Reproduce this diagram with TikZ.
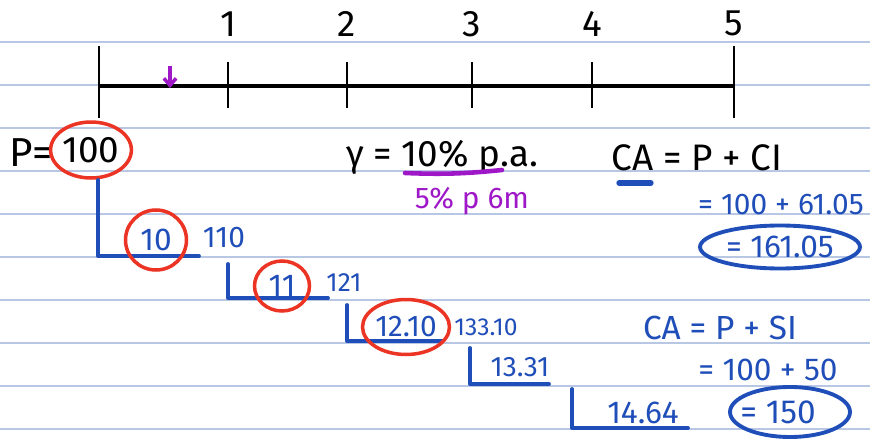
\documentclass[tikz,border=0pt]{standalone}
\usepackage{fontspec}
\setmainfont{Fira Sans}
\usetikzlibrary{shapes.geometric,arrows.meta,positioning}
\definecolor{penblue}{RGB}{32,78,185}
\definecolor{penred}{RGB}{236,52,36}
\definecolor{penpurple}{RGB}{158,24,200}
\definecolor{ruleblue}{RGB}{184,200,228}

\tikzset{
  hand/.style={font=\fontsize{#1}{#1}\selectfont, inner sep=1pt},
  ink/.style={line width=2.2pt, line cap=round, line join=round},
  ring/.style={ellipse, draw=#1, line width=2pt, inner sep=0pt},
  yearlbl/.style={hand=21},
  tick/.style={line width=1.7pt},
}

\begin{document}
\begin{tikzpicture}[x=0.02cm, y=-0.02cm]
\useasboundingbox (0,0) rectangle (870,443);
% ruled paper
\foreach \yy in {42,85,...,430}
  \draw[ruleblue, line width=0.7pt] (0,\yy) -- (870,\yy);

% time line
\coordinate (t0) at (99,86);
\coordinate (t5) at (734,86);
\draw[line width=2.6pt] (t0) -- (t5);
\draw[tick] (99,46) -- (99,118);
\draw[tick] (734,46) -- (734,118);
\foreach \xx/\yr in {228/1,347/2,472/3,592/4} {
  \draw[tick] (\xx,62) -- (\xx,108);
  \node[yearlbl] (y\yr) at (\xx,24) {\yr};
}
\node[yearlbl] (y5) at (734,23) {5};
\draw[penpurple, line width=2pt, -{Straight Barb[length=4pt,width=7pt]}] (170,66) -- (170,88);

% principal
\node[hand=23] (peq) at (31,153) {P=};
\node[hand=21, ring=penred, minimum width=1.5cm, minimum height=1.12cm] (p100) at (91,150) {100};

% rate
\node[hand=21] (rate) at (442,157) {γ = 10\% p.a.};
\draw[penpurple, ink, line width=2.6pt] (405,173) to[bend right=4] (502,170);
\node[hand=17, text=penpurple] (half) at (472,201) {5\% p 6m};

% compound amount
\node[hand=21] (ca) at (697,158) {CA = P + CI};
\draw[penblue, ink, line width=3pt] (619,183) -- (651,183);
\node[hand=17, text=penblue] (ca1) at (781,205) {= 100 + 61.05};
\node[hand=18, text=penblue, ring=penblue, line width=2.2pt,
      minimum width=3.2cm, minimum height=0.86cm] (ca2) at (780,247) {= 161.05};

% yearly interest steps
\coordinate (a1) at (98,180);  \coordinate (b1) at (199,256);
\coordinate (a2) at (228,264); \coordinate (b2) at (328,298);
\coordinate (a3) at (347,305); \coordinate (b3) at (442,341);
\coordinate (a4) at (470,348); \coordinate (b4) at (549,384);
\coordinate (a5) at (572,389); \coordinate (b5) at (688,428);
\foreach \i in {1,...,5}
  \draw[penblue, ink] (a\i) |- (b\i);

\node[hand=18, text=penblue, ring=penred, minimum width=1.22cm, minimum height=1.2cm] (i1) at (156,240) {10};
\node[hand=17, text=penblue] (s1) at (224,238) {110};
\node[hand=18, text=penblue, ring=penred, minimum width=1.1cm, minimum height=1cm] (i2) at (282,286) {11};
\node[hand=15, text=penblue] (s2) at (344,283) {121};
\node[hand=17, text=penblue, ring=penred, minimum width=1.5cm, minimum height=1.1cm] (i3) at (406,327) {12.10};
\node[hand=14, text=penblue] (s3) at (486,327) {133.10};
\node[hand=16, text=penblue] (i4) at (520,367) {13.31};
\node[hand=18, text=penblue] (i5) at (643,413) {14.64};

% simple interest
\node[hand=19, text=penblue] (sa) at (720,328) {CA = P + SI};
\node[hand=18, text=penblue] (sa1) at (768,370) {= 100 + 50};
\node[hand=19, text=penblue] (sa2) at (778,412) {= 150};
\node[ring=penblue, line width=2.2pt, minimum width=2.4cm, minimum height=1cm] (sa3) at (790,412) {};
\end{tikzpicture}
\end{document}
